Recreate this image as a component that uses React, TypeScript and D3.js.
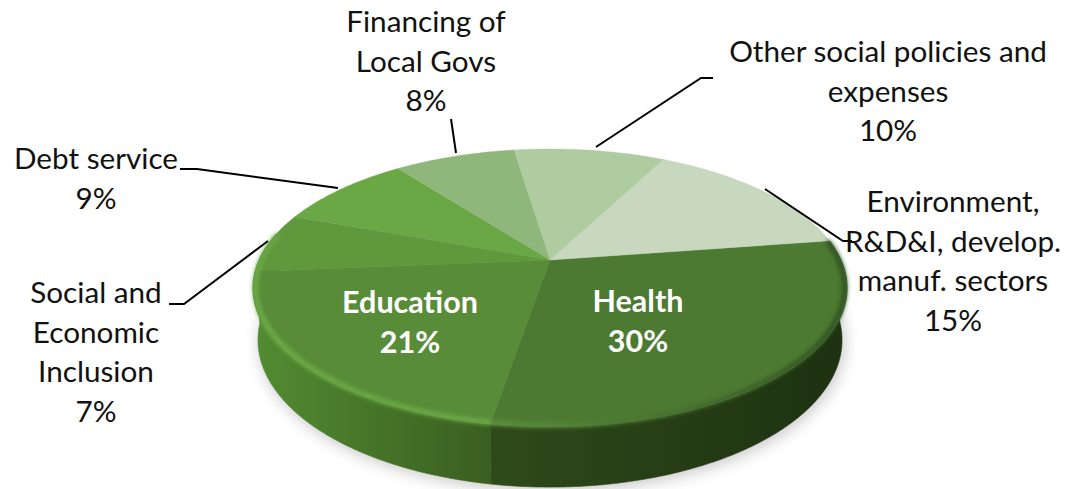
import React from "react";
import * as d3 from "d3";

const categories = ["Health", "Education", "Social and Economic Inclusion", "Debt service", "Financing of Local Govs", "Other social policies and expenses", "Environment, R&D&I, develop. manuf. sectors"];
const shares = [30, 21, 7, 9, 8, 10, 15];
const topColors = ["#4e7a30", "#588c37", "#61983e", "#6aa745", "#8fb77c", "#aecca0", "#c7d8bf"];
const sideFrom = ["#2f4a1a", "#528c31", "#528c31", "#5a9636", "#8fb77c", "#aecca0", "#c7d8bf"];
const sideTo = ["#1e3211", "#3a5e20", "#528c31", "#5a9636", "#8fb77c", "#aecca0", "#c7d8bf"];
const rimFrom = ["#5f9240", "#6fad49", "#6aa845", "#6aa745", "#8fb77c", "#aecca0", "#c7d8bf"];
const rimTo = ["#2f5020", "#6cab47", "#6aa845", "#6aa745", "#8fb77c", "#aecca0", "#c7d8bf"];

const labelLines = [
  ["Health", "30%"],
  ["Education", "21%"],
  ["Social and", "Economic", "Inclusion", "7%"],
  ["Debt service", "9%"],
  ["Financing of", "Local Govs", "8%"],
  ["Other social policies and", "expenses", "10%"],
  ["Environment,", "R&D&I, develop.", "manuf. sectors", "15%"],
];
const labelAnchors: [number, number][] = [[638, 312], [410, 313], [96, 303], [96, 169], [426, 32], [888, 62], [953, 212]];
const leaders: ([number, number][] | null)[] = [
  null,
  null,
  [[169, 304], [184, 304], [268, 241]],
  [[180, 169], [197, 169], [338, 188]],
  [[451, 119], [456, 153]],
  [[713, 78], [701, 78], [596, 147]],
  [[765, 189], [843, 241], [852, 241]],
];

const W = 1076, H = 489;
const CX = 550, APEX_Y = 260, A = 291, B = 133.4, K = 0.2014;
const ELLIPSE_CY = 288, DEPTH = 52, SHRINK_X = 0.983, STRETCH_Y = 1.058;
const START = (81.5 * Math.PI) / 180;
const FRONT0 = (78.4 * Math.PI) / 180, FRONT1 = (281.6 * Math.PI) / 180;
const FONT = "Lato, 'Noto Sans', sans-serif";

const project = (t: number, scale = 1): [number, number] => {
  const u = Math.sin(t) * scale, v = -Math.cos(t) * scale, w = 1 - K * v;
  return [CX + (A * u) / w, APEX_Y + (B * v) / w];
};
const projectBase = (t: number): [number, number] => {
  const [x, y] = project(t);
  return [CX + (x - CX) * SHRINK_X, ELLIPSE_CY + DEPTH + (y - ELLIPSE_CY) * STRETCH_Y];
};
const sample = (a: number, b: number) => [...d3.range(a, b, 0.01), b];
const line = d3.line();

export default function App() {
  const arcs = d3.pie<number>().sort(null).startAngle(START).endAngle(START + 2 * Math.PI)(shares);
  const whole = sample(0, 2 * Math.PI);
  const norm = (t: number) => t;
  const front = arcs
    .map((d, i) => ({ i, a: Math.max(norm(d.startAngle), FRONT0), b: Math.min(norm(d.endAngle), FRONT1) }))
    .filter((d) => d.b > d.a);
  const baseOutline = line(whole.map(projectBase)) + "Z";
  return (
    <svg width={W} height={H} viewBox={`0 0 ${W} ${H}`} style={{ position: "absolute", left: 0, top: 0, background: "#fff" }}>
      <defs>
        <filter id="shadow" x="-10%" y="-20%" width="120%" height="140%"><feGaussianBlur stdDeviation="8" /></filter>
        <filter id="rim" x="-5%" y="-20%" width="110%" height="140%"><feGaussianBlur stdDeviation="2" /></filter>
        <filter id="soft" x="-5%" y="-5%" width="110%" height="110%"><feGaussianBlur stdDeviation="0.5" /></filter>
        {front.map(({ i, a, b }) => {
          const xs = [project(a)[0], project(b)[0]];
          return (
            <React.Fragment key={i}>
              <linearGradient id={`side${i}`} gradientUnits="userSpaceOnUse" x1={Math.min(...xs)} x2={Math.max(...xs)} y1={0} y2={0}>
                <stop offset="0" stopColor={sideFrom[i]} />
                <stop offset="1" stopColor={sideTo[i]} />
              </linearGradient>
              <linearGradient id={`rim${i}`} gradientUnits="userSpaceOnUse" x1={Math.min(...xs)} x2={Math.max(...xs)} y1={0} y2={0}>
                <stop offset="0" stopColor={rimFrom[i]} />
                <stop offset="1" stopColor={rimTo[i]} />
              </linearGradient>
            </React.Fragment>
          );
        })}
      </defs>

      <path d={baseOutline} fill="#8a8a8a" opacity={0.5} filter="url(#shadow)" transform="translate(2 3)" />

      {front.map(({ i, a, b }) => {
        const ts = sample(a, b);
        const pts = [...ts.map((t) => project(t)), ...[...ts].reverse().map(projectBase)];
        return <path key={i} d={line(pts) + "Z"} fill={`url(#side${i})`} stroke={`url(#side${i})`} strokeWidth={0.6} />;
      })}

      <g filter="url(#soft)">
        {arcs.map((d, i) => {
          const pts = [[CX, APEX_Y] as [number, number], ...sample(d.startAngle, d.endAngle).map((t) => project(t))];
          return <path key={i} d={line(pts) + "Z"} fill={topColors[i]} stroke={topColors[i]} strokeWidth={0.4} />;
        })}
      </g>

      <g filter="url(#rim)">
        {front.map(({ i, a, b }) => (
          <path key={i} d={line(sample(a, b).map((t) => project(t, 0.992))) ?? ""} fill="none" stroke={`url(#rim${i})`} strokeWidth={5} />
        ))}
      </g>

      {leaders.map((pts, i) =>
        pts ? <path key={i} d={line(pts) ?? ""} fill="none" stroke="#000" strokeWidth={2} /> : null
      )}

      {labelLines.map((lines, i) => (
        <text key={i} fontFamily={FONT} fontSize={i < 2 ? 30.5 : 29.7} fontWeight={i < 2 ? 700 : 400} fill={i < 2 ? "#fff" : "#111"} textAnchor="middle">
          {lines.map((s, j) => (
            <tspan key={j} x={labelAnchors[i][0]} y={labelAnchors[i][1] + j * (i < 2 ? 40 : 39.6)}>{s}</tspan>
          ))}
        </text>
      ))}
    </svg>
  );
}
